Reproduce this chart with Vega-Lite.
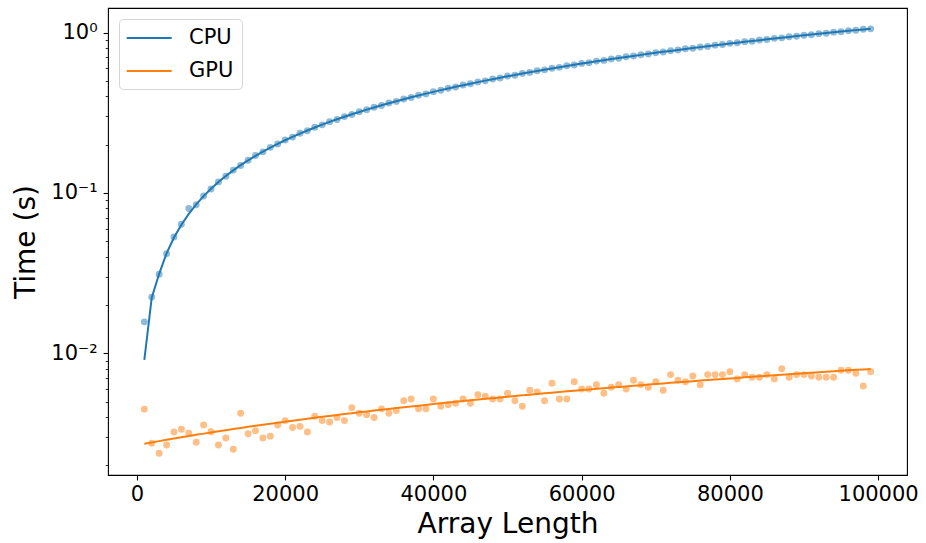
{
  "$schema": "https://vega.github.io/schema/vega-lite/v6.json",
  "width": 799,
  "height": 467,
  "autosize": {"type": "none"},
  "padding": {"left": 108, "top": 8, "right": 19, "bottom": 68},
  "background": "white",
  "config": {
    "view": {"stroke": "#000", "strokeWidth": 1.1},
    "font": "DejaVu Sans",
    "axis": {"labelFont": "DejaVu Sans", "titleFont": "DejaVu Sans", "labelColor": "#000", "titleColor": "#000", "tickColor": "#000", "titleFontWeight": "normal", "grid": false, "domain": false, "labelFontSize": 21, "titleFontSize": 28},
    "legend": {"labelFont": "DejaVu Sans", "labelFontSize": 21, "labelColor": "#000"}
  },
  "data": {"values": [
    {"n":1000,"series":"CPU","time":0.0157,"fit":0.0091},{"n":2000,"series":"CPU","time":0.0224,"fit":0.0222},{"n":3000,"series":"CPU","time":0.0311,"fit":0.0313},{"n":4000,"series":"CPU","time":0.0418,"fit":0.042},{"n":5000,"series":"CPU","time":0.0531,"fit":0.0527},{"n":6000,"series":"CPU","time":0.0638,"fit":0.0634},{"n":7000,"series":"CPU","time":0.08,"fit":0.0741},{"n":8000,"series":"CPU","time":0.0845,"fit":0.0848},{"n":9000,"series":"CPU","time":0.0958,"fit":0.0955},{"n":10000,"series":"CPU","time":0.1058,"fit":0.1062},
    {"n":11000,"series":"CPU","time":0.1172,"fit":0.1169},{"n":12000,"series":"CPU","time":0.127,"fit":0.1276},{"n":13000,"series":"CPU","time":0.1388,"fit":0.1383},{"n":14000,"series":"CPU","time":0.1484,"fit":0.149},{"n":15000,"series":"CPU","time":0.1601,"fit":0.1597},{"n":16000,"series":"CPU","time":0.1712,"fit":0.1704},{"n":17000,"series":"CPU","time":0.1805,"fit":0.1811},{"n":18000,"series":"CPU","time":0.1925,"fit":0.1918},{"n":19000,"series":"CPU","time":0.2018,"fit":0.2025},{"n":20000,"series":"CPU","time":0.214,"fit":0.2132},
    {"n":21000,"series":"CPU","time":0.223,"fit":0.2239},{"n":22000,"series":"CPU","time":0.2355,"fit":0.2346},{"n":23000,"series":"CPU","time":0.2445,"fit":0.2453},{"n":24000,"series":"CPU","time":0.257,"fit":0.256},{"n":25000,"series":"CPU","time":0.266,"fit":0.2667},{"n":26000,"series":"CPU","time":0.2785,"fit":0.2774},{"n":27000,"series":"CPU","time":0.287,"fit":0.2881},{"n":28000,"series":"CPU","time":0.2995,"fit":0.2988},{"n":29000,"series":"CPU","time":0.3085,"fit":0.3095},{"n":30000,"series":"CPU","time":0.3215,"fit":0.3202},
    {"n":31000,"series":"CPU","time":0.33,"fit":0.3309},{"n":32000,"series":"CPU","time":0.3425,"fit":0.3416},{"n":33000,"series":"CPU","time":0.351,"fit":0.3523},{"n":34000,"series":"CPU","time":0.364,"fit":0.363},{"n":35000,"series":"CPU","time":0.3725,"fit":0.3737},{"n":36000,"series":"CPU","time":0.3855,"fit":0.3844},{"n":37000,"series":"CPU","time":0.394,"fit":0.3951},{"n":38000,"series":"CPU","time":0.407,"fit":0.4058},{"n":39000,"series":"CPU","time":0.415,"fit":0.4165},{"n":40000,"series":"CPU","time":0.4285,"fit":0.4272},
    {"n":41000,"series":"CPU","time":0.437,"fit":0.4379},{"n":42000,"series":"CPU","time":0.45,"fit":0.4486},{"n":43000,"series":"CPU","time":0.458,"fit":0.4593},{"n":44000,"series":"CPU","time":0.471,"fit":0.47},{"n":45000,"series":"CPU","time":0.4795,"fit":0.4807},{"n":46000,"series":"CPU","time":0.493,"fit":0.4914},{"n":47000,"series":"CPU","time":0.5005,"fit":0.5021},{"n":48000,"series":"CPU","time":0.514,"fit":0.5128},{"n":49000,"series":"CPU","time":0.522,"fit":0.5235},{"n":50000,"series":"CPU","time":0.536,"fit":0.5342},
    {"n":51000,"series":"CPU","time":0.543,"fit":0.5449},{"n":52000,"series":"CPU","time":0.557,"fit":0.5556},{"n":53000,"series":"CPU","time":0.565,"fit":0.5663},{"n":54000,"series":"CPU","time":0.579,"fit":0.577},{"n":55000,"series":"CPU","time":0.586,"fit":0.5877},{"n":56000,"series":"CPU","time":0.6,"fit":0.5984},{"n":57000,"series":"CPU","time":0.6075,"fit":0.6091},{"n":58000,"series":"CPU","time":0.6215,"fit":0.6198},{"n":59000,"series":"CPU","time":0.629,"fit":0.6305},{"n":60000,"series":"CPU","time":0.643,"fit":0.6412},
    {"n":61000,"series":"CPU","time":0.65,"fit":0.6519},{"n":62000,"series":"CPU","time":0.6645,"fit":0.6626},{"n":63000,"series":"CPU","time":0.6715,"fit":0.6733},{"n":64000,"series":"CPU","time":0.686,"fit":0.684},{"n":65000,"series":"CPU","time":0.693,"fit":0.6947},{"n":66000,"series":"CPU","time":0.707,"fit":0.7054},{"n":67000,"series":"CPU","time":0.7145,"fit":0.7161},{"n":68000,"series":"CPU","time":0.7285,"fit":0.7268},{"n":69000,"series":"CPU","time":0.7355,"fit":0.7375},{"n":70000,"series":"CPU","time":0.75,"fit":0.7482},
    {"n":71000,"series":"CPU","time":0.757,"fit":0.7589},{"n":72000,"series":"CPU","time":0.7715,"fit":0.7696},{"n":73000,"series":"CPU","time":0.7785,"fit":0.7803},{"n":74000,"series":"CPU","time":0.793,"fit":0.791},{"n":75000,"series":"CPU","time":0.7995,"fit":0.8017},{"n":76000,"series":"CPU","time":0.8145,"fit":0.8124},{"n":77000,"series":"CPU","time":0.821,"fit":0.8231},{"n":78000,"series":"CPU","time":0.836,"fit":0.8338},{"n":79000,"series":"CPU","time":0.8425,"fit":0.8445},{"n":80000,"series":"CPU","time":0.8575,"fit":0.8552},
    {"n":81000,"series":"CPU","time":0.864,"fit":0.8659},{"n":82000,"series":"CPU","time":0.879,"fit":0.8766},{"n":83000,"series":"CPU","time":0.885,"fit":0.8873},{"n":84000,"series":"CPU","time":0.9,"fit":0.898},{"n":85000,"series":"CPU","time":0.9065,"fit":0.9087},{"n":86000,"series":"CPU","time":0.9215,"fit":0.9194},{"n":87000,"series":"CPU","time":0.928,"fit":0.9301},{"n":88000,"series":"CPU","time":0.943,"fit":0.9408},{"n":89000,"series":"CPU","time":0.949,"fit":0.9515},{"n":90000,"series":"CPU","time":0.9645,"fit":0.9622},
    {"n":91000,"series":"CPU","time":0.9705,"fit":0.9729},{"n":92000,"series":"CPU","time":0.986,"fit":0.9836},{"n":93000,"series":"CPU","time":0.9915,"fit":0.9943},{"n":94000,"series":"CPU","time":1.0075,"fit":1.005},{"n":95000,"series":"CPU","time":1.013,"fit":1.0157},{"n":96000,"series":"CPU","time":1.029,"fit":1.0264},{"n":97000,"series":"CPU","time":1.0345,"fit":1.0371},{"n":98000,"series":"CPU","time":1.05,"fit":1.0478},{"n":99000,"series":"CPU","time":1.056,"fit":1.0585},
    {"n":1000,"series":"GPU","time":0.00448,"fit":0.002724},{"n":2000,"series":"GPU","time":0.00275,"fit":0.002777},{"n":3000,"series":"GPU","time":0.00238,"fit":0.002831},{"n":4000,"series":"GPU","time":0.00268,"fit":0.002885},{"n":5000,"series":"GPU","time":0.00323,"fit":0.002939},{"n":6000,"series":"GPU","time":0.00336,"fit":0.002992},{"n":7000,"series":"GPU","time":0.00317,"fit":0.003046},{"n":8000,"series":"GPU","time":0.00279,"fit":0.0031},{"n":9000,"series":"GPU","time":0.00357,"fit":0.003153},{"n":10000,"series":"GPU","time":0.00324,"fit":0.003207},
    {"n":11000,"series":"GPU","time":0.00268,"fit":0.003261},{"n":12000,"series":"GPU","time":0.00296,"fit":0.003314},{"n":13000,"series":"GPU","time":0.00252,"fit":0.003368},{"n":14000,"series":"GPU","time":0.00422,"fit":0.003422},{"n":15000,"series":"GPU","time":0.00315,"fit":0.003476},{"n":16000,"series":"GPU","time":0.00329,"fit":0.003529},{"n":17000,"series":"GPU","time":0.00296,"fit":0.003583},{"n":18000,"series":"GPU","time":0.00304,"fit":0.003637},{"n":19000,"series":"GPU","time":0.00357,"fit":0.00369},{"n":20000,"series":"GPU","time":0.0038,"fit":0.003744},
    {"n":21000,"series":"GPU","time":0.00344,"fit":0.003798},{"n":22000,"series":"GPU","time":0.0035,"fit":0.003851},{"n":23000,"series":"GPU","time":0.00323,"fit":0.003905},{"n":24000,"series":"GPU","time":0.00405,"fit":0.003959},{"n":25000,"series":"GPU","time":0.0038,"fit":0.004013},{"n":26000,"series":"GPU","time":0.00373,"fit":0.004066},{"n":27000,"series":"GPU","time":0.00397,"fit":0.00412},{"n":28000,"series":"GPU","time":0.0038,"fit":0.004174},{"n":29000,"series":"GPU","time":0.00458,"fit":0.004227},{"n":30000,"series":"GPU","time":0.00422,"fit":0.004281},
    {"n":31000,"series":"GPU","time":0.00414,"fit":0.004335},{"n":32000,"series":"GPU","time":0.00397,"fit":0.004388},{"n":33000,"series":"GPU","time":0.0045,"fit":0.004442},{"n":34000,"series":"GPU","time":0.00422,"fit":0.004496},{"n":35000,"series":"GPU","time":0.0044,"fit":0.00455},{"n":36000,"series":"GPU","time":0.00506,"fit":0.004603},{"n":37000,"series":"GPU","time":0.00519,"fit":0.004657},{"n":38000,"series":"GPU","time":0.0045,"fit":0.004711},{"n":39000,"series":"GPU","time":0.0045,"fit":0.004764},{"n":40000,"series":"GPU","time":0.00519,"fit":0.004818},
    {"n":41000,"series":"GPU","time":0.00467,"fit":0.004872},{"n":42000,"series":"GPU","time":0.00478,"fit":0.004925},{"n":43000,"series":"GPU","time":0.00488,"fit":0.004979},{"n":44000,"series":"GPU","time":0.00519,"fit":0.005033},{"n":45000,"series":"GPU","time":0.00488,"fit":0.005087},{"n":46000,"series":"GPU","time":0.00552,"fit":0.00514},{"n":47000,"series":"GPU","time":0.00539,"fit":0.005194},{"n":48000,"series":"GPU","time":0.00519,"fit":0.005248},{"n":49000,"series":"GPU","time":0.00519,"fit":0.005301},{"n":50000,"series":"GPU","time":0.00563,"fit":0.005355},
    {"n":51000,"series":"GPU","time":0.00506,"fit":0.005409},{"n":52000,"series":"GPU","time":0.00467,"fit":0.005462},{"n":53000,"series":"GPU","time":0.00588,"fit":0.005516},{"n":54000,"series":"GPU","time":0.00574,"fit":0.00557},{"n":55000,"series":"GPU","time":0.00506,"fit":0.005624},{"n":56000,"series":"GPU","time":0.0065,"fit":0.005677},{"n":57000,"series":"GPU","time":0.00519,"fit":0.005731},{"n":58000,"series":"GPU","time":0.00519,"fit":0.005785},{"n":59000,"series":"GPU","time":0.00665,"fit":0.005838},{"n":60000,"series":"GPU","time":0.00598,"fit":0.005892},
    {"n":61000,"series":"GPU","time":0.00598,"fit":0.005946},{"n":62000,"series":"GPU","time":0.00637,"fit":0.005999},{"n":63000,"series":"GPU","time":0.00563,"fit":0.006053},{"n":64000,"series":"GPU","time":0.00614,"fit":0.006107},{"n":65000,"series":"GPU","time":0.00637,"fit":0.006161},{"n":66000,"series":"GPU","time":0.00598,"fit":0.006214},{"n":67000,"series":"GPU","time":0.00679,"fit":0.006268},{"n":68000,"series":"GPU","time":0.00637,"fit":0.006322},{"n":69000,"series":"GPU","time":0.00614,"fit":0.006375},{"n":70000,"series":"GPU","time":0.00665,"fit":0.006429},
    {"n":71000,"series":"GPU","time":0.00588,"fit":0.006483},{"n":72000,"series":"GPU","time":0.00736,"fit":0.006536},{"n":73000,"series":"GPU","time":0.00679,"fit":0.00659},{"n":74000,"series":"GPU","time":0.00665,"fit":0.006644},{"n":75000,"series":"GPU","time":0.00722,"fit":0.006698},{"n":76000,"series":"GPU","time":0.00637,"fit":0.006751},{"n":77000,"series":"GPU","time":0.00736,"fit":0.006805},{"n":78000,"series":"GPU","time":0.00736,"fit":0.006859},{"n":79000,"series":"GPU","time":0.00736,"fit":0.006912},{"n":80000,"series":"GPU","time":0.00767,"fit":0.006966},
    {"n":81000,"series":"GPU","time":0.00692,"fit":0.00702},{"n":82000,"series":"GPU","time":0.00736,"fit":0.007073},{"n":83000,"series":"GPU","time":0.00709,"fit":0.007127},{"n":84000,"series":"GPU","time":0.00709,"fit":0.007181},{"n":85000,"series":"GPU","time":0.00736,"fit":0.007235},{"n":86000,"series":"GPU","time":0.00692,"fit":0.007288},{"n":87000,"series":"GPU","time":0.00801,"fit":0.007342},{"n":88000,"series":"GPU","time":0.00709,"fit":0.007396},{"n":89000,"series":"GPU","time":0.00736,"fit":0.007449},{"n":90000,"series":"GPU","time":0.00736,"fit":0.007503},
    {"n":91000,"series":"GPU","time":0.00722,"fit":0.007557},{"n":92000,"series":"GPU","time":0.00709,"fit":0.00761},{"n":93000,"series":"GPU","time":0.00709,"fit":0.007664},{"n":94000,"series":"GPU","time":0.00709,"fit":0.007718},{"n":95000,"series":"GPU","time":0.00783,"fit":0.007772},{"n":96000,"series":"GPU","time":0.00783,"fit":0.007825},{"n":97000,"series":"GPU","time":0.0075,"fit":0.007879},{"n":98000,"series":"GPU","time":0.00625,"fit":0.007933},{"n":99000,"series":"GPU","time":0.00767,"fit":0.007986}
  ]},
  "encoding": {
    "x": {
      "field": "n", "type": "quantitative",
      "scale": {"domain": [-3900, 103900], "nice": false, "zero": false},
      "axis": {"title": "Array Length", "values": [0, 20000, 40000, 60000, 80000, 100000], "format": "d", "tickSize": 4.9, "tickWidth": 1.1, "labelPadding": 4, "titlePadding": 6, "labelFlush": false}
    }
  },
  "layer": [
    {
      "mark": {"type": "point", "filled": true, "size": 48, "opacity": 0.5, "strokeWidth": 0},
      "encoding": {
        "y": {
          "field": "time", "type": "quantitative",
          "scale": {"type": "log", "domain": [0.00174, 1.425], "nice": false, "zero": false},
          "axis": {
            "title": "Time (s)",
            "values": [0.002, 0.003, 0.004, 0.005, 0.006, 0.007, 0.008, 0.009, 0.01, 0.02, 0.03, 0.04, 0.05, 0.06, 0.07, 0.08, 0.09, 0.1, 0.2, 0.3, 0.4, 0.5, 0.6, 0.7, 0.8, 0.9, 1],
            "labelExpr": "datum.value == 1 ? '10⁰' : datum.value == 0.1 ? '10⁻¹' : datum.value == 0.01 ? '10⁻²' : ''",
            "labelOverlap": false,
            "tickSize": {"condition": {"test": "datum.value == 1 || datum.value == 0.1 || datum.value == 0.01", "value": 4.9}, "value": 2.8},
            "tickWidth": {"condition": {"test": "datum.value == 1 || datum.value == 0.1 || datum.value == 0.01", "value": 1.1}, "value": 0.8},
            "labelPadding": 6,
            "titlePadding": 10
          }
        },
        "color": {"field": "series", "type": "nominal", "scale": {"domain": ["CPU", "GPU"], "range": ["#1f77b4", "#ff7f0e"]}, "legend": null}
      }
    },
    {
      "mark": {"type": "line", "strokeWidth": 2},
      "encoding": {
        "y": {
          "field": "fit", "type": "quantitative",
          "scale": {"type": "log", "domain": [0.00174, 1.425], "nice": false, "zero": false}
        },
        "color": {
          "field": "series", "type": "nominal",
          "scale": {"domain": ["CPU", "GPU"], "range": ["#1f77b4", "#ff7f0e"]},
          "legend": {"title": null, "orient": "top-left", "offset": 11, "padding": 8, "strokeColor": "#d5d5d5", "fillColor": "white", "cornerRadius": 4, "symbolType": "M-1.13,0H3.37", "symbolSize": 400, "symbolStrokeWidth": 2, "labelOffset": 40, "rowPadding": 12, "labelFontSize": 21}
        }
      }
    }
  ],
  "resolve": {"scale": {"color": "independent"}}
}
